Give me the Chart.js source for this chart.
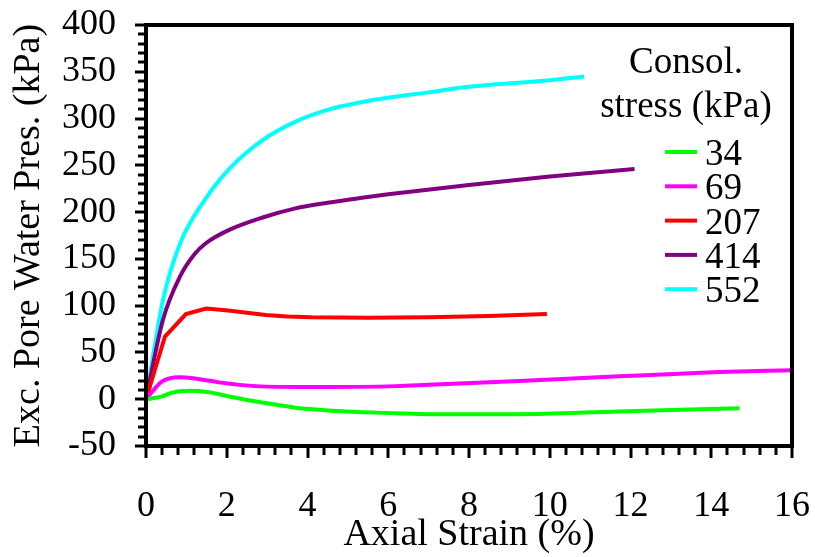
<!DOCTYPE html>
<html>
<head>
<meta charset="utf-8">
<script src="https://cdn.jsdelivr.net/npm/chart.js@4"></script>
<style>
html,body{margin:0;padding:0;background:#fff;}
#wrap{width:815px;height:557px;}
</style>
</head>
<body>
<div id="wrap"><canvas id="c" width="815" height="557"></canvas></div>
<script>
// ---- Data ----
const seriesLabels = ["34", "69", "207", "414", "552"];
const seriesColors = ["#00ff00", "#ff00ff", "#ff0000", "#800080", "#00ffff"];

const strain34 = [0, 0.4, 0.64, 1.07, 1.56, 2.06, 2.87, 3.7, 4.95, 6.2, 7.0, 9.2, 11.7, 14.7];
const pwp34    = [0, 3, 7, 9, 7.5, 3, -3.5, -9, -13, -15, -16, -16, -13, -9.6];

const strain69 = [0, 0.4, 0.82, 1.24, 1.81, 2.72, 4.1, 6.2, 7.0, 9.24, 11.7, 14.2, 16];
const pwp69    = [0, 19, 23.5, 22, 18, 14, 13, 14, 15.5, 19.6, 24.5, 29, 31];

const strain207 = [0, 0.47, 0.99, 1.49, 1.98, 2.5, 2.97, 3.5, 4.1, 5.5, 7.0, 8.5, 9.93];
const pwp207    = [0, 67, 91, 97, 95, 92.5, 90, 88.5, 87.5, 87, 87.5, 89, 91];

const strain414 = [0, 0.42, 0.84, 1.2, 1.49, 2.06, 2.87, 3.7, 4.5, 5.3, 6, 8, 10, 12.1];
const pwp414    = [0, 85, 131, 155, 167, 181, 194, 204, 210, 215, 219, 229, 238, 246];

const strain552 = [0, 0.42, 0.84, 1.44, 2.08, 2.89, 3.72, 4.56, 5.8, 7.0, 8.0, 10.0, 10.85];
const pwp552    = [0, 106, 166, 212, 247, 277, 297, 310, 321, 328, 334, 341, 345];

const xTitle = "Axial Strain (%)";
const yTitle = "Exc. Pore Water Pres. (kPa)";
const legendTitle = ["Consol.", "stress (kPa)"];
const xMin = 0, xMax = 16, xStep = 2, xMinorStep = 0.4;
const yMin = -50, yMax = 400, yStep = 50, yMinorStep = 10;

const FONT = '"Liberation Serif", "Times New Roman", serif';

const strains = [strain34, strain69, strain207, strain414, strain552];
const pwps = [pwp34, pwp69, pwp207, pwp414, pwp552];

const datasets = seriesLabels.map((lab, k) => ({
  label: lab,
  data: strains[k].map((x, i) => ({x: x, y: pwps[k][i]})),
  borderColor: seriesColors[k],
  backgroundColor: seriesColors[k],
  borderWidth: 4,
  pointRadius: 0,
  fill: false,
  tension: k === 2 ? 0 : 0.4,
  cubicInterpolationMode: k === 2 ? 'default' : 'monotone'
}));

const framePlugin = {
  id: 'frameTicks',
  afterDraw(chart) {
    const ctx = chart.ctx, a = chart.chartArea;
    const xs = chart.scales.x, ys = chart.scales.y;
    ctx.save();
    ctx.strokeStyle = '#000';
    ctx.lineWidth = 3;
    ctx.lineCap = 'butt';
    const nx = Math.round((xMax - xMin) / xMinorStep);
    const perX = Math.round(xStep / xMinorStep);
    for (let i = 0; i <= nx; i++) {
      const v = xMin + i * xMinorStep;
      const px = Math.round(xs.getPixelForValue(v));
      const len = (i % perX === 0) ? 12 : 9;
      ctx.beginPath(); ctx.moveTo(px, a.bottom); ctx.lineTo(px, a.bottom + len); ctx.stroke();
    }
    const ny = Math.round((yMax - yMin) / yMinorStep);
    const perY = Math.round(yStep / yMinorStep);
    for (let i = 0; i <= ny; i++) {
      const v = yMin + i * yMinorStep;
      const py = Math.round(ys.getPixelForValue(v));
      const len = (i % perY === 0) ? 11 : 8;
      ctx.beginPath(); ctx.moveTo(a.left, py); ctx.lineTo(a.left - len, py); ctx.stroke();
    }
    ctx.lineWidth = 4;
    ctx.strokeRect(a.left, a.top, a.right - a.left, a.bottom - a.top);

    // legend
    ctx.fillStyle = '#000';
    ctx.font = '37px ' + FONT;
    ctx.textAlign = 'center';
    ctx.textBaseline = 'alphabetic';
    ctx.fillText(legendTitle[0], 686, 73);
    ctx.fillText(legendTitle[1], 686, 117);
    ctx.textAlign = 'left';
    chart.data.datasets.forEach((ds, k) => {
      const base = 165 + k * 34.3;
      ctx.strokeStyle = ds.borderColor;
      ctx.lineWidth = 4;
      ctx.beginPath(); ctx.moveTo(665, base - 13); ctx.lineTo(697, base - 13); ctx.stroke();
      ctx.fillStyle = '#000';
      ctx.fillText(ds.label, 705, base);
    });
    ctx.restore();
  }
};

new Chart(document.getElementById('c'), {
  type: 'line',
  data: { datasets: datasets },
  plugins: [framePlugin],
  options: {
    responsive: false,
    animation: false,
    layout: { padding: { left: 0, top: 25, right: 23, bottom: 0 } },
    plugins: { legend: { display: false }, tooltip: { enabled: false } },
    scales: {
      x: {
        type: 'linear', min: xMin, max: xMax,
        afterFit: s => { s.height = 111; s.paddingLeft = 0; s.paddingRight = 0; },
        grid: { display: false, drawTicks: false },
        border: { display: false },
        ticks: { stepSize: xStep, padding: 39, color: '#000', maxRotation: 0, autoSkip: false,
                 font: { family: FONT, size: 36, lineHeight: 1.2 } },
        title: { display: true, text: xTitle, color: '#000', padding: { top: 0, bottom: 3 },
                 font: { family: FONT, size: 38, lineHeight: 1 } }
      },
      y: {
        type: 'linear', min: yMin, max: yMax,
        afterFit: s => { s.width = 146; s.paddingTop = 0; s.paddingBottom = 0; },
        grid: { display: false, drawTicks: false },
        border: { display: false },
        ticks: { stepSize: yStep, padding: 30, color: '#000', autoSkip: false,
                 font: { family: FONT, size: 36, lineHeight: 1.2 } },
        title: { display: true, text: yTitle, color: '#000', padding: { top: 10, bottom: 0 },
                 font: { family: FONT, size: 38, lineHeight: 1 } }
      }
    }
  }
});
</script>
</body>
</html>
